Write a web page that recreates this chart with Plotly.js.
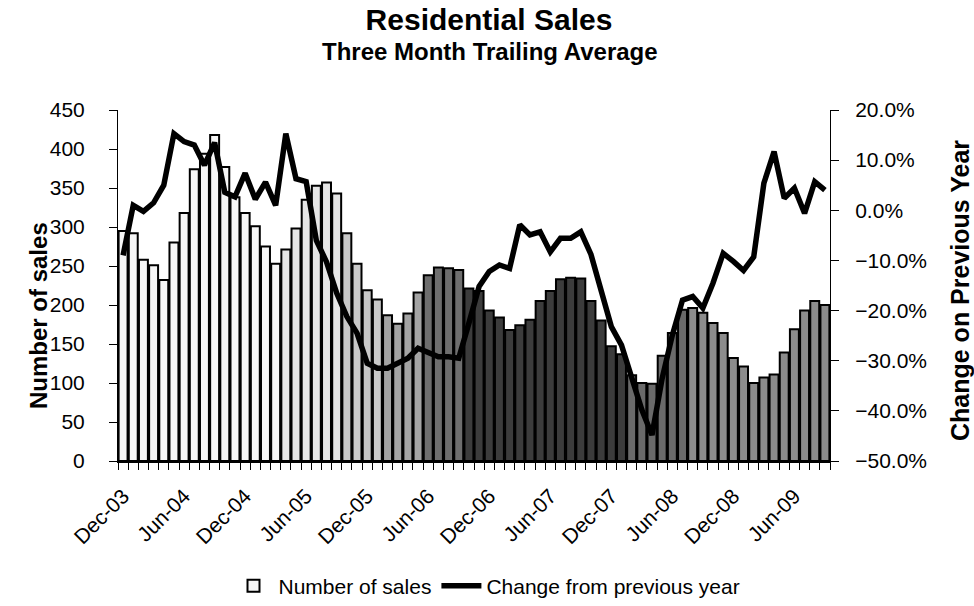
<!DOCTYPE html>
<html>
<head>
<meta charset="utf-8">
<script src="https://cdn.plot.ly/plotly-3.0.1.min.js"></script>
<style>html,body{margin:0;padding:0;background:#fff;}#chart{width:974px;height:606px;}</style>
</head>
<body>
<div id="chart"></div>
<script>
// ---- data ----
const months = [
  "Dec-03",
  "Jan-04","Feb-04","Mar-04","Apr-04","May-04","Jun-04","Jul-04","Aug-04","Sep-04","Oct-04","Nov-04","Dec-04",
  "Jan-05","Feb-05","Mar-05","Apr-05","May-05","Jun-05","Jul-05","Aug-05","Sep-05","Oct-05","Nov-05","Dec-05",
  "Jan-06","Feb-06","Mar-06","Apr-06","May-06","Jun-06","Jul-06","Aug-06","Sep-06","Oct-06","Nov-06","Dec-06",
  "Jan-07","Feb-07","Mar-07","Apr-07","May-07","Jun-07","Jul-07","Aug-07","Sep-07","Oct-07","Nov-07","Dec-07",
  "Jan-08","Feb-08","Mar-08","Apr-08","May-08","Jun-08","Jul-08","Aug-08","Sep-08","Oct-08","Nov-08","Dec-08",
  "Jan-09","Feb-09","Mar-09","Apr-09","May-09","Jun-09","Jul-09","Aug-09","Sep-09"
];
const tickLabels = ["Dec-03","Jun-04","Dec-04","Jun-05","Dec-05","Jun-06","Dec-06","Jun-07","Dec-07","Jun-08","Dec-08","Jun-09"];
const numberOfSales = [
  295,
  292,258,251,232,280,318,374,394,418,377,338,318,
  301,275,253,271,298,335,353,357,343,292,253,219,
  207,187,176,189,216,238,248,247,245,221,218,193,
  184,168,174,181,205,218,233,235,234,205,180,147,
  137,110,100,99,135,164,194,196,190,177,164,132,
  121,100,107,111,139,169,193,205,200
];
const changeFromPrevYear = [
  -9.0,
  1.0,-0.2,1.5,5.0,15.3,13.7,13.0,9.0,13.5,3.6,2.7,7.4,
  2.2,5.6,1.0,15.3,6.3,5.7,-6.0,-10.3,-16.5,-21.2,-24.5,-30.5,
  -31.5,-31.5,-30.5,-29.5,-27.5,-28.5,-29.2,-29.2,-29.5,-22.5,-15.2,-12.2,
  -10.9,-11.6,-2.9,-4.9,-4.3,-8.3,-5.6,-5.6,-4.3,-8.8,-15.6,-23.2,
  -26.9,-33.2,-39.8,-44.8,-33.5,-24.9,-17.9,-17.2,-19.5,-14.5,-8.6,-10.2,
  -12.0,-9.3,5.4,11.7,2.4,4.4,-0.6,5.7,4.0
];

// ---- style (scan tone of bars, by position) ----
const barShades = months.map((m, i) => {
  if (i < 16) return "#f6f6f6";
  if (i < 22) return "#e6e6e6";
  if (i < 26) return "#c8c8c8";
  if (i < 30) return "#a4a4a4";
  if (i < 34) return "#6e6e6e";
  if (i < 50) return "#3c3c3c";
  if (i < 56) return "#6a6a6a";
  return "#8c8c8c";
});

const FONT = "Liberation Sans, Arial, Helvetica, sans-serif";
const tickTextAll = months.map(m => tickLabels.includes(m) ? m : "");

const traces = [
  {
    type: "bar",
    name: "Number of sales",
    x: months,
    y: numberOfSales,
    marker: { color: barShades, line: { color: "#000", width: 2 } },
    yaxis: "y"
  },
  {
    type: "scatter",
    mode: "lines",
    name: "Change from previous year",
    x: months,
    y: changeFromPrevYear,
    line: { color: "#000", width: 5.5 },
    yaxis: "y2"
  }
];

const layout = {
  width: 974, height: 606,
  margin: { l: 118, r: 144, t: 110, b: 145, autoexpand: false },
  paper_bgcolor: "#fff", plot_bgcolor: "#fff",
  font: { family: FONT, color: "#000", size: 20 },
  title: {
    text: "<b>Residential Sales</b>",
    font: { family: FONT, size: 30, color: "#000" },
    x: (489 - 118) / 712, xanchor: "center", xref: "paper",
    y: 1 - 19/606, yanchor: "middle", yref: "container"
  },
  bargap: 0.12,
  showlegend: true,
  legend: {
    orientation: "h", x: 0.5, xanchor: "center", xref: "container",
    y: 1 - 586/606, yanchor: "middle", yref: "container",
    font: { family: FONT, size: 21, color: "#000" },
    itemwidth: 40, traceorder: "normal", bgcolor: "rgba(0,0,0,0)"
  },
  xaxis: {
    type: "category",
    tickmode: "array",
    tickvals: months,
    ticktext: tickTextAll,
    tickson: "boundaries",
    ticks: "outside", ticklen: 7, tickwidth: 1, tickcolor: "#000",
    tickangle: -45,
    tickfont: { family: FONT, size: 21, color: "#000" },
    ticklabelstandoff: 13,
    showline: true, linecolor: "#000", linewidth: 1.5,
    showgrid: false, zeroline: false,
    range: [-0.5, months.length - 0.5]
  },
  yaxis: {
    range: [0, 450], dtick: 50, tick0: 0,
    ticks: "outside", ticklen: 8, tickcolor: "#000", tickwidth: 1,
    tickfont: { family: FONT, size: 21, color: "#000" },
    ticklabelstandoff: 20,
    showline: true, linecolor: "#000", linewidth: 1,
    showgrid: false, zeroline: false
  },
  yaxis2: {
    overlaying: "y", side: "right",
    range: [-50, 20], dtick: 10, tick0: 0,
    tickformat: ".1f", ticksuffix: "%",
    ticks: "outside", ticklen: 8, tickcolor: "#000", tickwidth: 1,
    tickfont: { family: FONT, size: 21, color: "#000" },
    ticklabelstandoff: 12,
    showline: true, linecolor: "#000", linewidth: 1,
    showgrid: false, zeroline: false
  },
  annotations: [
    {
      text: "<b>Three Month Trailing Average</b>",
      xref: "paper", yref: "paper", x: (490 - 118) / 712, y: (461 - 51) / 351,
      xanchor: "center", yanchor: "middle", showarrow: false,
      font: { family: FONT, size: 24, color: "#000" }
    },
    {
      text: "<b>Number of sales</b>",
      xref: "paper", yref: "paper", x: (38 - 118) / 712, y: (461 - 316) / 351,
      xanchor: "center", yanchor: "middle", showarrow: false, textangle: -90,
      font: { family: FONT, size: 24, color: "#000" }
    },
    {
      text: "<b>Change on Previous Year</b>",
      xref: "paper", yref: "paper", x: (960 - 118) / 712, y: (461 - 291) / 351,
      xanchor: "center", yanchor: "middle", showarrow: false, textangle: -90,
      font: { family: FONT, size: 25, color: "#000" }
    }
  ]
};

Plotly.newPlot("chart", traces, layout, { displayModeBar: false, staticPlot: true });
</script>
</body>
</html>
